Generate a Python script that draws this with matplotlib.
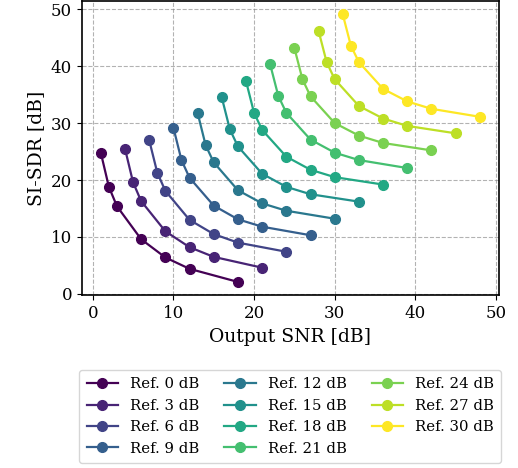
import matplotlib
matplotlib.use('Agg')
import matplotlib.pyplot as plt
import numpy as np

refs = [0, 3, 6, 9, 12, 15, 18, 21, 24, 27, 30]
snr_offsets = [1, 2, 3, 6, 9, 12, 18]  # output SNR = ref + offset

sisdr = [
    [24.8, 18.8, 15.4, 9.6, 6.4, 4.4, 2.1],
    [25.5, 19.6, 16.3, 11.0, 8.2, 6.5, 4.6],
    [27.0, 21.3, 18.1, 13.0, 10.5, 9.0, 7.4],
    [29.2, 23.5, 20.4, 15.5, 13.1, 11.8, 10.3],
    [31.8, 26.1, 23.1, 18.2, 15.9, 14.6, 13.2],
    [34.5, 28.9, 25.9, 21.1, 18.8, 17.5, 16.2],
    [37.4, 31.8, 28.8, 24.1, 21.8, 20.5, 19.2],
    [40.3, 34.8, 31.8, 27.1, 24.8, 23.5, 22.1],
    [43.2, 37.7, 34.7, 30.0, 27.8, 26.5, 25.2],
    [46.2, 40.7, 37.7, 33.0, 30.8, 29.5, 28.2],
    [49.1, 43.6, 40.7, 36.0, 33.8, 32.5, 31.1],
]

plt.rcParams['font.family'] = 'DejaVu Serif'
plt.rcParams['font.size'] = 12

fig = plt.figure(figsize=(5.18, 4.68), dpi=100)
ax = fig.add_axes([0.158, 0.369, 0.805, 0.629])

colors = plt.cm.viridis(np.linspace(0, 1, len(refs)))
for ref, ys, c in zip(refs, sisdr, colors):
    xs = [ref + o for o in snr_offsets]
    ax.plot(xs, ys, '-o', color=c, lw=1.6, ms=7, label=f'Ref. {ref} dB')

ax.set_xlabel('Output SNR [dB]', fontsize=13.5)
ax.set_ylabel('SI-SDR [dB]', fontsize=13.5)
ax.set_xticks([0, 10, 20, 30, 40, 50])
ax.set_yticks([0, 10, 20, 30, 40, 50])
ax.grid(True, linestyle='--', color='gray', alpha=0.6)
for s in ax.spines.values():
    s.set_linewidth(1.2)

ax.legend(loc='upper center', bbox_to_anchor=(0.5, -0.228), ncol=3, fontsize=10.7,
          handlelength=2.1, columnspacing=1.7, labelspacing=0.5, borderpad=0.5)

fig.savefig('out.png', dpi=100)
